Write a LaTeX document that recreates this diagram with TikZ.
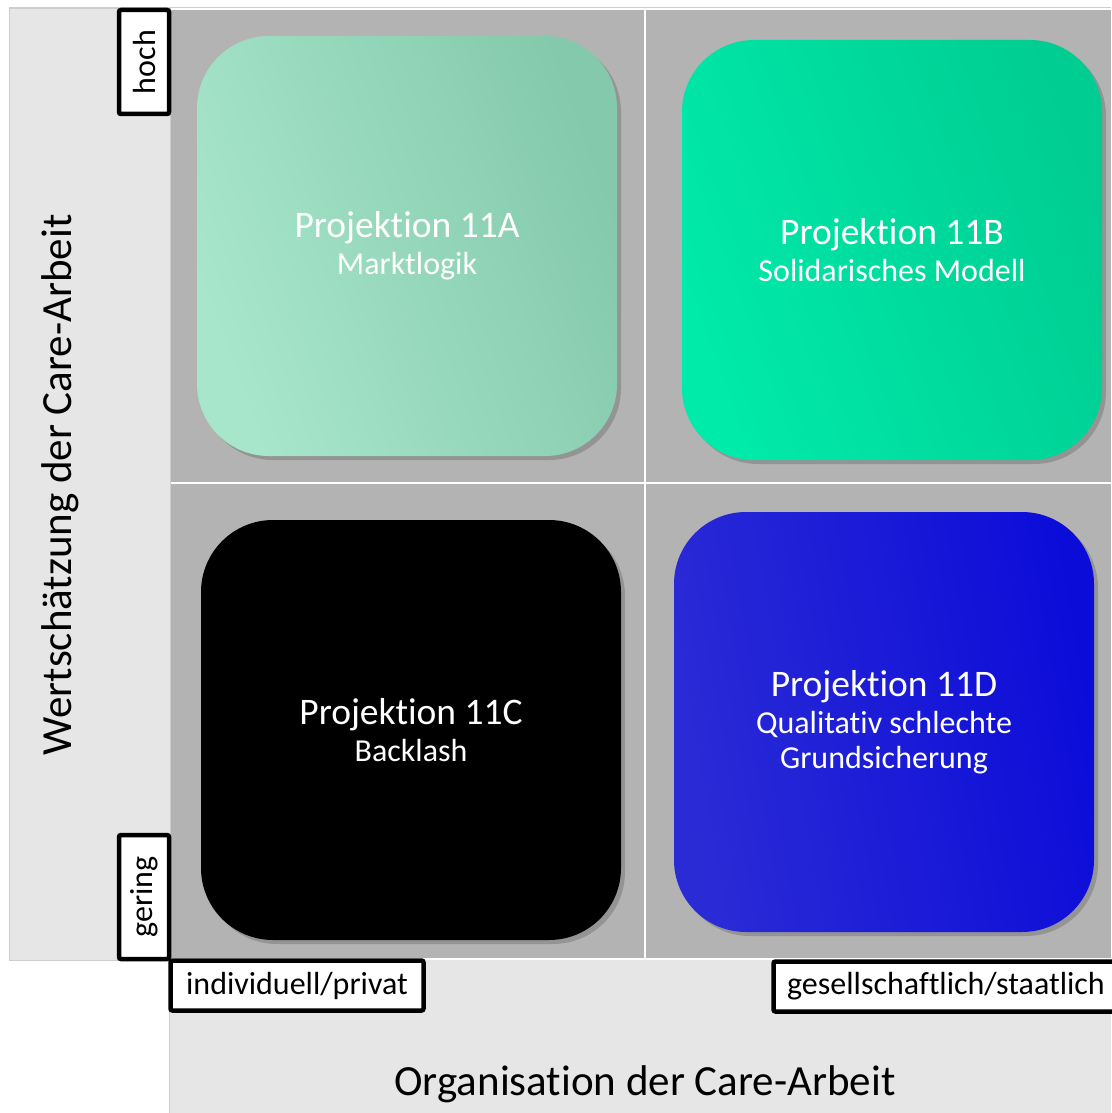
\documentclass[tikz,border=0pt]{standalone}
\usepackage{fontspec}
\setmainfont{Carlito}[Ligatures=NoCommon]
\usetikzlibrary{shadows}
\definecolor{bandgray}{HTML}{E6E6E6}
\definecolor{fieldgray}{HTML}{B3B3B3}
\definecolor{framegray}{HTML}{CCCCCC}
\definecolor{mintA}{HTML}{A8E6CC}
\definecolor{mintB}{HTML}{84C9AC}
\definecolor{greenA}{HTML}{00EAAA}
\definecolor{greenB}{HTML}{00CD92}
\definecolor{blueA}{HTML}{2B2BD6}
\definecolor{blueB}{HTML}{0C0CD9}
\newcommand{\projsub}{\fontsize{32}{35}\selectfont}

\begin{document}
\begin{tikzpicture}[x=1pt,y=-1pt,
    proj/.style={rounded corners=72pt,minimum size=420pt,inner sep=0pt,text=white,align=center,
        font=\fontsize{37.5}{37}\selectfont,
        drop shadow={shadow xshift=4pt,shadow yshift=-4pt,opacity=0.6}},
    tag/.style={draw=black,line width=4.5pt,rounded corners=2pt,fill=white,inner sep=0pt,
        minimum height=50pt,font=\fontsize{32}{36}\selectfont},
    axislabel/.style={font=\fontsize{43}{50}\selectfont}]
    \useasboundingbox (0,0) rectangle (1111,1113);
    \fill[white] (0,0) rectangle (1111,1113);
    \filldraw[fill=bandgray,draw=framegray,line width=1pt] (9,9) rectangle (170,960);
    \draw[framegray,line width=1pt] (9,8) -- (1111,8);
    \fill[bandgray] (170,960) rectangle (1111,1113);
    \draw[framegray,line width=1pt] (169.5,960) -- (169.5,1113);
    \fill[fieldgray] (171,10) rectangle (1111,958);
    \draw[white,line width=2.5pt] (645,10) -- (645,958);
    \draw[white,line width=2.5pt] (171,483) -- (1111,483);

    \node[proj,left color=mintA,right color=mintB,shading angle=110] (pA) at (407,246)
        {Projektion 11A\\\projsub Marktlogik};
    \node[proj,left color=greenA,right color=greenB,shading angle=110] (pB) at (892,250)
        {Projektion 11B\\\projsub Solidarisches Modell};
    \node[proj,fill=black] (pC) at (411,730)
        {Projektion 11C\\\projsub Backlash};
    \node[proj,left color=blueA,right color=blueB,shading angle=100] (pD) at (884,722)
        {Projektion 11D\\\projsub Qualitativ schlechte\\[-2pt]\projsub Grundsicherung};

    \node[tag,rotate=90,minimum width=104pt] (hoch) at (144,62) {hoch};
    \node[tag,rotate=90,minimum width=124pt] (gering) at (144,897) {gering};
    \node[tag,minimum width=253pt] (privat) at (297,985.5) {individuell/privat};
    \node[tag,minimum width=345pt] (staat) at (946,986.5) {gesellschaftlich/staatlich};

    \node[axislabel,rotate=90] (wert) at (60,485) {Wertschätzung der Care-Arbeit};
    \node[axislabel] (orga) at (645,1084) {Organisation der Care-Arbeit};

\end{tikzpicture}
\end{document}
